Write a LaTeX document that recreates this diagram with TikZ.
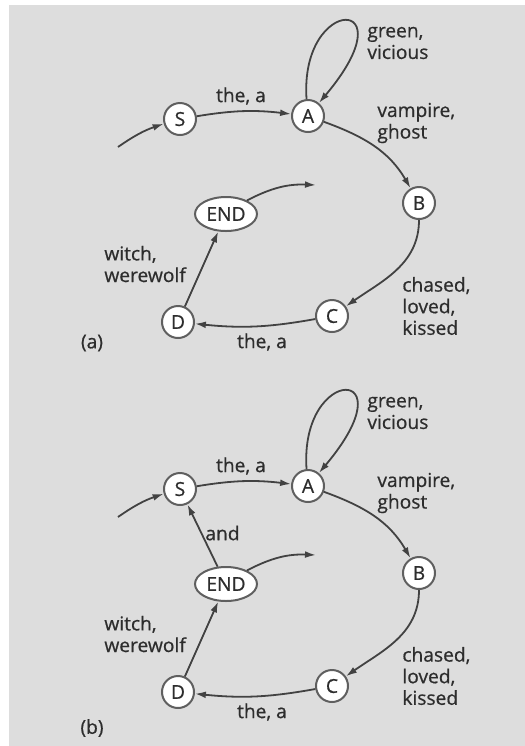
\documentclass[tikz,border=0pt]{standalone}
\usepackage{fontspec}
\setmainfont{Open Sans}[FakeBold=0.7]
\usetikzlibrary{arrows.meta, shapes.geometric}
\definecolor{paper}{RGB}{221,221,221}
\definecolor{ink}{RGB}{45,45,45}
\definecolor{rim}{RGB}{95,95,95}

\begin{document}
\begin{tikzpicture}[
    x=0.5pt, y=-0.5pt,
    state/.style={circle, draw=rim, line width=1pt, fill=white, minimum size=16pt, inner sep=0pt, text=ink},
    final/.style={ellipse, draw=rim, line width=1pt, fill=white, minimum width=31pt, minimum height=17pt, inner sep=0pt, text=ink},
    arc/.style={-{Latex[length=5.5pt,width=3.4pt]}, draw=ink!90, line width=0.9pt},
    lbl/.style={text=ink, align=left, inner sep=0pt},
    every node/.append style={font=\fontsize{9.6}{10.8}\selectfont}
]

    % Paper
    \fill[white] (0,0) rectangle (525,746);
    \fill[paper] (9,5) rectangle (525,746);
    \useasboundingbox (0,0) rectangle (525,746);

    \foreach \p/\dy/\ly in {a/0/343, b/370/728}{
    \begin{scope}[shift={(0,\dy)}]
        % States
        \node[state] (S\p)   at (180,119) {S};
        \node[state] (A\p)   at (308,116) {A};
        \node[state] (B\p)   at (419,203) {B};
        \node[state] (C\p)   at (332,316) {C};
        \node[state] (D\p)   at (178,322) {D};
        \node[final] (END\p) at (226,214) {END};
        \coordinate (in\p)  at (118,147);
        \coordinate (out\p) at (316,185);

        % Transitions
        \draw[arc] (in\p) to[bend left=8] (S\p);
        \draw[arc] (S\p) to[bend left=8] (A\p);
        \draw[arc] (A\p.95) .. controls +(-7,-105) and +(92,-109) .. (A\p.50);
        \draw[arc] (A\p) to[out=-20, in=120] (B\p);
        \draw[arc] (B\p) to[out=-90, in=35] (C\p);
        \draw[arc] (C\p) to[bend left=8] (D\p);
        \draw[arc] (D\p) -- (END\p);
        \draw[arc] (END\p) to[bend left=15] (out\p);

        % Labels
        \node[lbl, anchor=west] (lgv\p) at (367,43)  {green,\\vicious};
        \node[lbl]              (lsa\p) at (241,96)  {the, a};
        \node[lbl, anchor=west] (lvg\p) at (377,123) {vampire,\\ghost};
        \node[lbl, anchor=west] (lww\p) at (104,264) {witch,\\werewolf};
        \node[lbl, anchor=west] (lck\p) at (402,306) {chased,\\loved,\\kissed};
        \node[lbl]              (lcd\p) at (262,342) {the, a};
    \end{scope}
    \node[lbl] (panel\p) at (92,\ly) {(\p)};
    }

    % Extra transition in (b)
    \draw[arc] (ENDb) -- (Sb);
    \node[lbl, anchor=west] (land) at (205,533) {and};

\end{tikzpicture}
\end{document}
